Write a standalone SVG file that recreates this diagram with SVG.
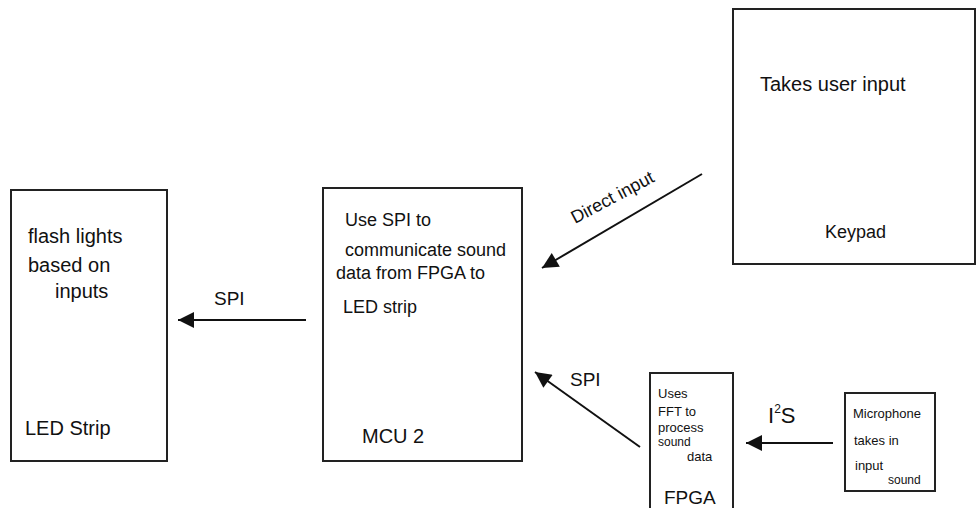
<svg xmlns="http://www.w3.org/2000/svg" width="978" height="508" viewBox="0 0 978 508">
<style>
.box{fill:#fff;stroke:#222;stroke-width:2}
.ln{stroke:#111;stroke-width:2;fill:none}
text{font-family:"Liberation Sans",Arial,sans-serif;fill:#111;font-size:18px}
.s{font-size:13px}
.xs{font-size:12px}
.m{font-size:19px}
.l{font-size:20px}
</style>
<defs>
<marker id="ah" viewBox="0 0 10 10" refX="10" refY="5" markerWidth="22" markerHeight="16" markerUnits="userSpaceOnUse" orient="auto">
<path d="M0,0 L10,5 L0,10 z" fill="#111"/>
</marker>
</defs>
<rect width="978" height="508" fill="#fff"/>
<g id="led">
<rect class="box" x="11" y="190" width="156" height="271"/>
<text class="l" x="28" y="243">flash lights</text>
<text class="l" x="28" y="272">based on</text>
<text class="l" x="55" y="298">inputs</text>
<text class="l" x="25" y="435">LED Strip</text>
</g>
<g id="mcu">
<rect class="box" x="323" y="188" width="199" height="273"/>
<text x="345" y="226">Use SPI to</text>
<text x="345" y="256">communicate sound</text>
<text x="336" y="279">data from FPGA to</text>
<text x="343" y="313">LED strip</text>
<text class="l" x="362" y="443">MCU 2</text>
</g>
<g id="keypad">
<rect class="box" x="733" y="9" width="242" height="255"/>
<text class="l" x="760" y="91">Takes user input</text>
<text x="825" y="238">Keypad</text>
</g>
<g id="fpga">
<rect class="box" x="650" y="373" width="83" height="145"/>
<text class="s" x="658" y="398">Uses</text>
<text class="s" x="658" y="416">FFT to</text>
<text class="s" x="658" y="432">process</text>
<text class="xs" x="658" y="446">sound</text>
<text class="s" x="687" y="461">data</text>
<text class="m" x="664" y="504">FPGA</text>
</g>
<g id="mic">
<rect class="box" x="845" y="393" width="90" height="98"/>
<text class="s" x="853" y="418">Microphone</text>
<text class="s" x="854" y="445">takes in</text>
<text class="s" x="855" y="470">input</text>
<text class="xs" x="888" y="484">sound</text>
</g>
<g id="connectors">
<line class="ln" x1="306" y1="320" x2="178" y2="320" marker-end="url(#ah)"/>
<text class="m" x="214" y="305">SPI</text>
<line class="ln" x1="702" y1="174" x2="542" y2="268" marker-end="url(#ah)"/>
<text transform="translate(575,224) rotate(-28)">Direct input</text>
<line class="ln" x1="640" y1="447" x2="535" y2="372" marker-end="url(#ah)"/>
<text class="m" x="570" y="386">SPI</text>
<line class="ln" x1="833" y1="443" x2="746" y2="443" marker-end="url(#ah)"/>
<text style="font-size:22px" x="768" y="423">I<tspan style="font-size:12px" dy="-10">2</tspan><tspan dy="10">S</tspan></text>
</g>
</svg>
